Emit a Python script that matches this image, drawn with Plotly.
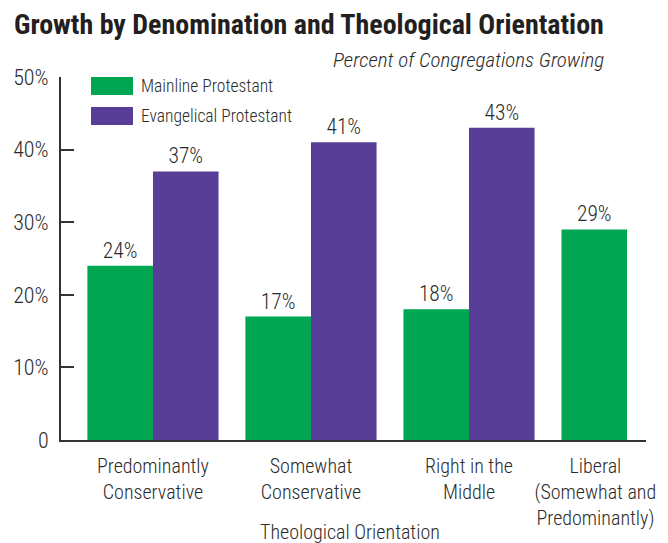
import plotly.graph_objects as go

categories = ["Predominantly<br>Conservative", "Somewhat<br>Conservative", "Right in the<br>Middle", "Liberal<br>(Somewhat and<br>Predominantly)"]
mainline = [24, 17, 18, 29]
evangelical = [37, 41, 43]
yticks = [0, 10, 20, 30, 40, 50]
ytick_text = ["0", "10%", "20%", "30%", "40%", "50%"]

GREEN = "#00A651"
PURPLE = "#583E97"
TXT = "#2b2b2b"
FONT = "Roboto Condensed, Archivo Narrow, DejaVu Sans Condensed, sans-serif"
W = 300  # light weight for body text

xpos = list(range(len(categories)))

fig = go.Figure()
fig.add_trace(go.Bar(
    x=xpos, y=mainline, name="Mainline Protestant",
    marker=dict(color=GREEN, line=dict(width=0)),
    texttemplate="%{y}%", textposition="outside",
    textfont=dict(size=21.5, color=TXT, family=FONT, weight=W), cliponaxis=False,
))
fig.add_trace(go.Bar(
    x=xpos[:len(evangelical)], y=evangelical, name="Evangelical Protestant",
    marker=dict(color=PURPLE, line=dict(width=0)),
    texttemplate="%{y}%", textposition="outside",
    textfont=dict(size=21.5, color=TXT, family=FONT, weight=W), cliponaxis=False,
))

tickpos = [0, 1, 2, 2.8]

# page body has an 8px margin, so the figure is 8px smaller than the window
fig.update_layout(
    width=660, height=535,
    margin=dict(l=53, r=22, t=69, b=103, autoexpand=False),
    barmode="group", bargap=0.17, bargroupgap=0,
    plot_bgcolor="white", paper_bgcolor="white",
    showlegend=False,
    font=dict(family=FONT, color=TXT, size=19, weight=W),
    xaxis=dict(
        range=[-0.582, 3.12], tickvals=tickpos, ticktext=categories,
        showline=True, linecolor="#333333", linewidth=2, ticks="",
        showgrid=False, zeroline=False, tickfont=dict(size=20, family=FONT, color=TXT, weight=W),
        ticklabelstandoff=7, automargin=False,
    ),
    yaxis=dict(
        range=[0, 50], tickvals=yticks, ticktext=ytick_text,
        showline=True, linecolor="#333333", linewidth=2,
        ticks="inside", ticklen=13, tickwidth=2, tickcolor="#333333",
        showgrid=False, zeroline=False, tickfont=dict(size=22, family=FONT, color=TXT, weight=W),
        ticklabelstandoff=6, automargin=False,
    ),
)

# Title and subtitle
fig.add_annotation(
    text="<b>Growth by Denomination and Theological Orientation</b>",
    xref="paper", yref="paper", x=-0.084, y=1.0 + (77 - 25) / 363.0,
    xanchor="left", yanchor="middle", showarrow=False,
    font=dict(size=28, family=FONT, color="#231f20"),
)
fig.add_annotation(
    text="<i>Percent of Congregations Growing</i>",
    xref="paper", yref="paper", x=(606 - 61) / 585.0, y=1.0 + (77 - 60) / 363.0,
    xanchor="right", yanchor="middle", showarrow=False,
    font=dict(size=21, family=FONT, color=TXT, weight=W),
)
# Axis title
fig.add_annotation(
    text="Theological Orientation",
    xref="paper", yref="paper", x=(350 - 61) / 585.0, y=(440 - 532) / 363.0,
    xanchor="center", yanchor="middle", showarrow=False,
    font=dict(size=20, family=FONT, color=TXT, weight=W),
)

# Legend (drawn manually to match the large swatches)
legend_items = [("Mainline Protestant", GREEN, 86), ("Evangelical Protestant", PURPLE, 116)]
for label, color, yc in legend_items:
    y0 = (440 - (yc - 9)) / 363.0
    y1 = (440 - (yc + 9)) / 363.0
    fig.add_shape(type="rect", xref="paper", yref="paper",
                  x0=(91 - 61) / 585.0, x1=(133 - 61) / 585.0, y0=y1, y1=y0,
                  fillcolor=color, line=dict(width=0))
    fig.add_annotation(text=label, xref="paper", yref="paper",
                       x=(139 - 61) / 585.0, y=(440 - yc) / 363.0,
                       xanchor="left", yanchor="middle", showarrow=False,
                       font=dict(size=17.5, family=FONT, color=TXT, weight=W))

fig.write_html("out.html")
